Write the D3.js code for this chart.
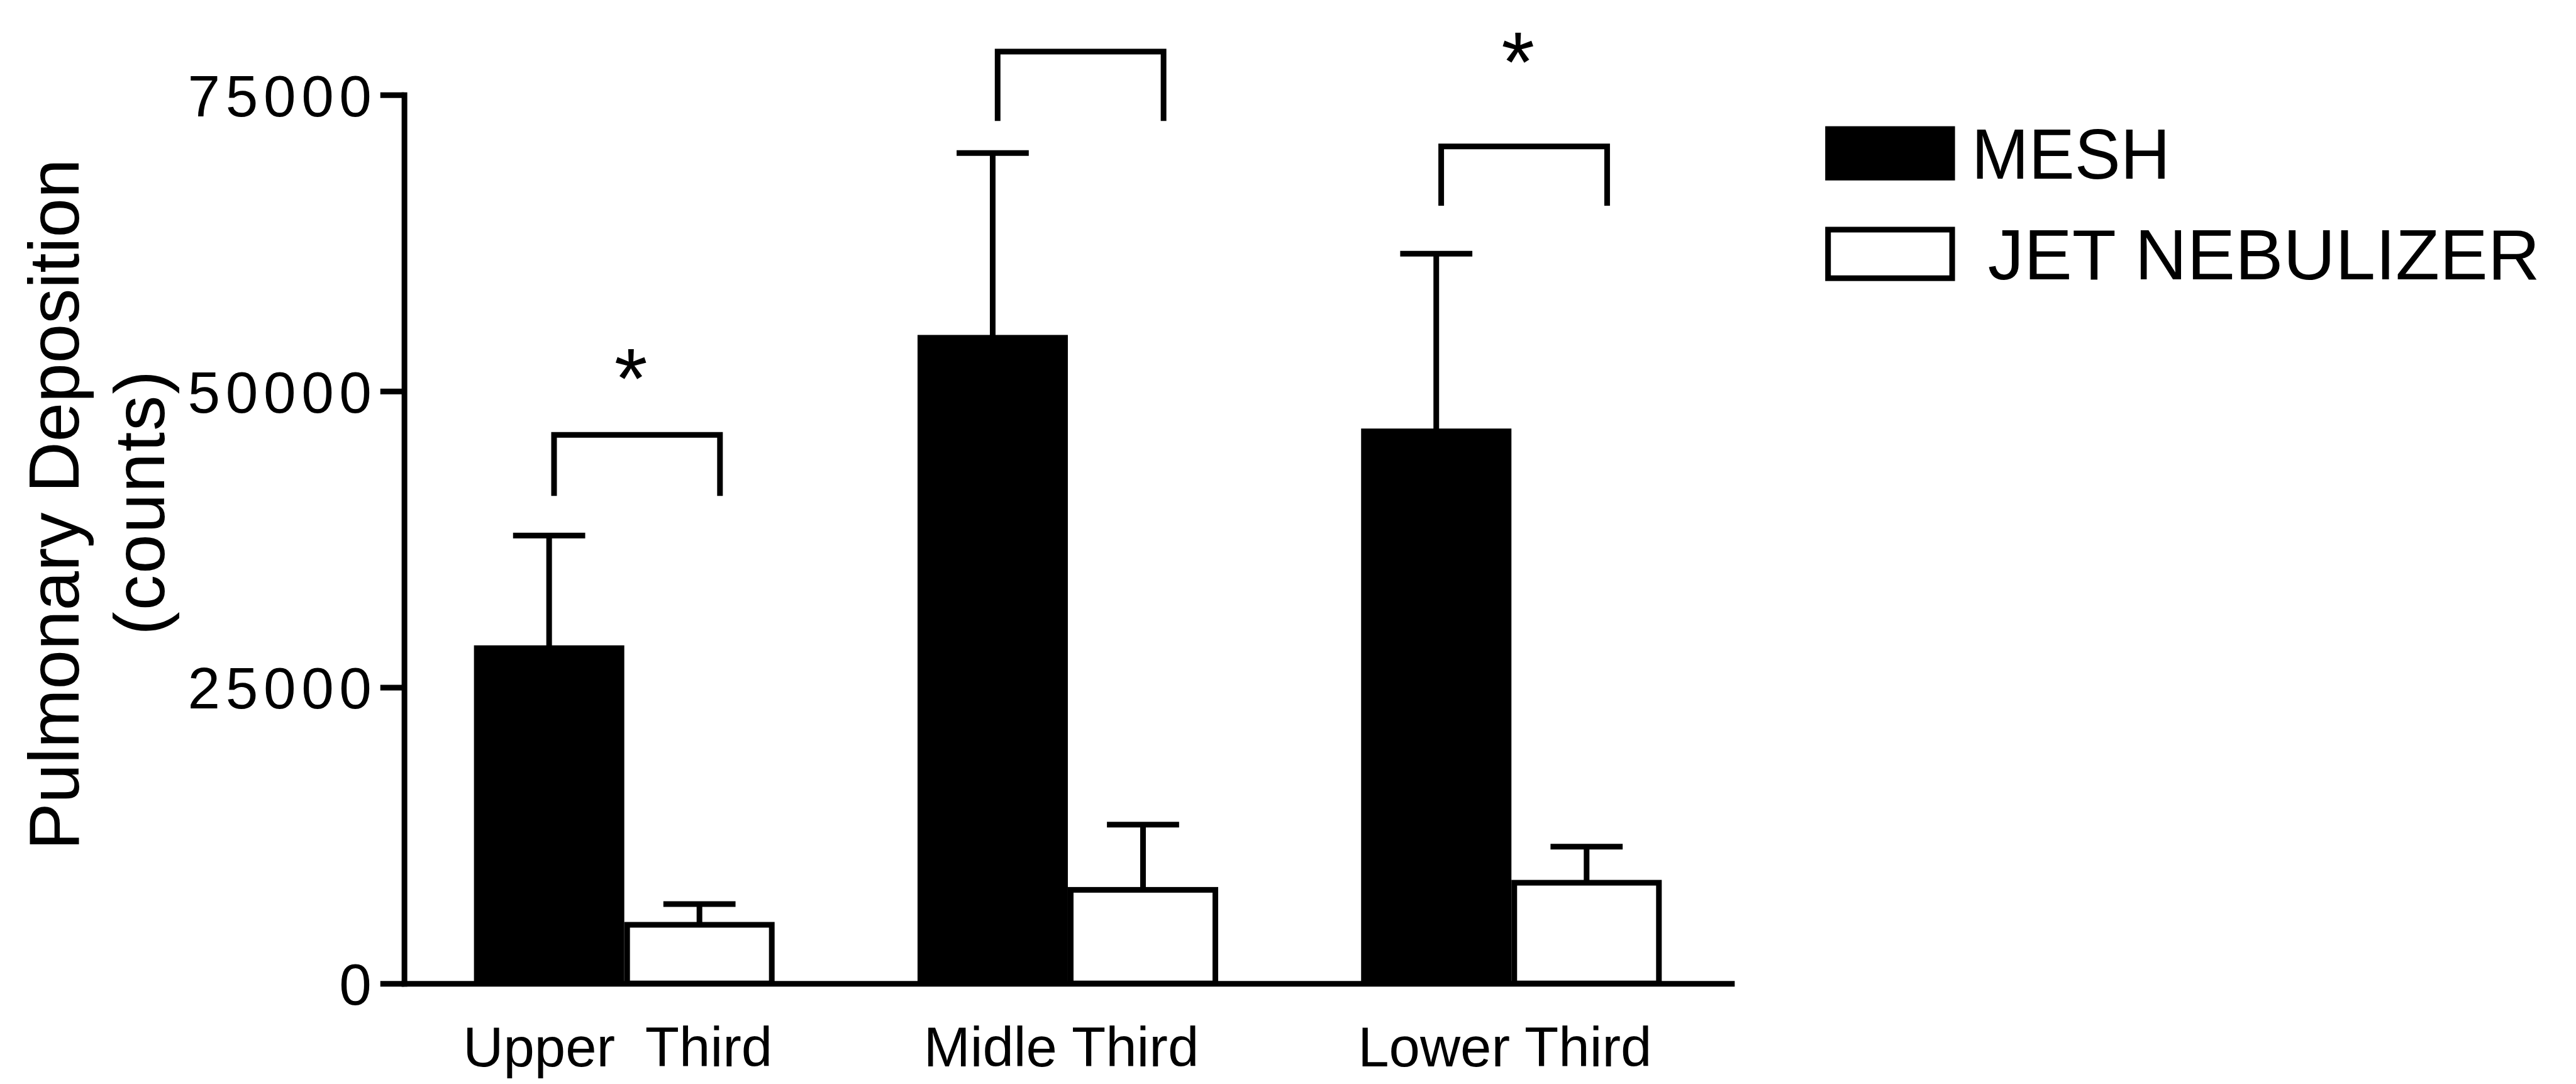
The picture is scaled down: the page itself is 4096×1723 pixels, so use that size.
<!DOCTYPE html>
<html><head><meta charset="utf-8">
<script src="https://cdn.jsdelivr.net/npm/d3@7"></script>
<style>html,body{margin:0;padding:0;background:#fff;overflow:hidden}</style>
</head><body><svg id="chart"></svg>
<script>
// ---- data ----
const categories = ["Upper\u00A0 Third", "Midle Third", "Lower Third"];
const seriesNames = ["MESH", "JET NEBULIZER"];
const meshMean = [28300, 54500, 46600];
const meshSD = [9500, 15600, 15000];
const jetMean = [4950, 7900, 8500];
const jetSD = [1750, 5500, 3050];
const yTicks = [0, 25000, 50000, 75000];
const significance = ["*", "", "*"];
const bracketTop = [46300, 78650, 70650];
const bracketLegEnd = [41150, 72800, 65650];
const starCenter = [52800, null, 79550];
const yTitle = ["Pulmonary Deposition", "(counts)"];

// ---- layout ----
const W = 4096, H = 1723, k = W / 1568;
const FONT = "'Liberation Sans', Arial, Helvetica, sans-serif";
const LW = 9;
const svg = d3.select("#chart").attr("width", W).attr("height", H);
svg.append("rect").attr("width", W).attr("height", H).attr("fill", "#fff");

const y = d3.scaleLinear().domain([0, 75000]).range([598.4 * k, 57.75 * k]);
const x0 = d3.scaleBand().domain(categories).range([246 * k, 1054 * k])
  .paddingInner(0.3222).paddingOuter(0.1574);
const x1 = d3.scaleBand().domain(seriesNames).range([0, x0.bandwidth()]);
const bw = x1.bandwidth();

const rows = categories.map((c, i) => ({
  cat: c, i,
  values: [
    { s: seriesNames[0], v: meshMean[i], sd: meshSD[i] },
    { s: seriesNames[1], v: jetMean[i], sd: jetSD[i] }
  ]
}));

const g = svg.append("g");

// bars
const grp = g.selectAll("g.grp").data(rows).join("g")
  .attr("class", "grp")
  .attr("transform", d => `translate(${x0(d.cat)},0)`);

grp.selectAll("rect.bar").data(d => d.values).join("rect")
  .attr("class", "bar")
  .attr("x", d => d.s === seriesNames[0] ? x1(d.s) : x1(d.s) + LW / 2)
  .attr("width", d => d.s === seriesNames[0] ? bw : bw - LW)
  .attr("y", d => d.s === seriesNames[0] ? y(d.v) - LW / 2 : y(d.v))
  .attr("height", d => d.s === seriesNames[0] ? y(0) - y(d.v) + LW / 2 : y(0) - y(d.v))
  .attr("fill", d => d.s === seriesNames[0] ? "#000" : "#fff")
  .attr("stroke", d => d.s === seriesNames[0] ? "none" : "#000")
  .attr("stroke-width", LW);

// error bars (upper only)
grp.selectAll("line.err").data(d => d.values).join("line")
  .attr("class", "err")
  .attr("x1", d => x1(d.s) + bw / 2).attr("x2", d => x1(d.s) + bw / 2)
  .attr("y1", d => y(d.v)).attr("y2", d => y(d.v + d.sd))
  .attr("stroke", "#000").attr("stroke-width", LW);
grp.selectAll("line.cap").data(d => d.values).join("line")
  .attr("class", "cap")
  .attr("x1", d => x1(d.s) + bw / 2 - bw * 0.24).attr("x2", d => x1(d.s) + bw / 2 + bw * 0.24)
  .attr("y1", d => y(d.v + d.sd)).attr("y2", d => y(d.v + d.sd))
  .attr("stroke", "#000").attr("stroke-width", LW);

// significance brackets
grp.append("path")
  .attr("d", d => {
    const xl = x1(seriesNames[0]) + bw / 2 + 3 * k;
    const xr = x1(seriesNames[1]) + bw / 2 + 12.5 * k;
    return `M${xl},${y(bracketLegEnd[d.i])}V${y(bracketTop[d.i])}H${xr}V${y(bracketLegEnd[d.i])}`;
  })
  .attr("fill", "none").attr("stroke", "#000").attr("stroke-width", LW)
  .attr("stroke-linejoin", "miter");

const starFs = 52 * k;
grp.filter(d => significance[d.i] !== "")
  .append("text")
  .attr("x", x0.bandwidth() / 2 + 4 * k)
  .attr("y", d => y(starCenter[d.i]) + 0.585 * starFs)
  .attr("text-anchor", "middle")
  .attr("font-family", FONT).attr("font-size", starFs)
  .text(d => significance[d.i]);

// y axis
const yAxis = d3.axisLeft(y).tickValues(yTicks).tickFormat(d3.format("d"))
  .tickSize(14.5 * k).tickSizeOuter(0).tickPadding(2 * k);
const ya = svg.append("g").attr("transform", `translate(${246 * k},0)`).call(yAxis);
ya.select(".domain").attr("stroke", "#000").attr("stroke-width", LW).attr("stroke-linecap", "square");
ya.selectAll(".tick line").attr("stroke", "#000").attr("stroke-width", LW);
ya.selectAll(".tick text")
  .attr("font-family", FONT).attr("font-size", 35.5 * k)
  .attr("letter-spacing", 3.3 * k)
  .attr("fill", "#000").attr("dy", "0.36em");

// x axis
const xAxis = d3.axisBottom(x0).tickSize(0).tickSizeOuter(0).tickPadding(0);
const xa = svg.append("g").attr("transform", `translate(0,${y(0)})`).call(xAxis);
xa.select(".domain").attr("stroke", "#000").attr("stroke-width", LW).attr("stroke-linecap", "square");
xa.selectAll(".tick text")
  .attr("font-family", FONT).attr("font-size", 34 * k)
  .attr("fill", "#000")
  .attr("y", 50.6 * k).attr("dy", 0).attr("dx", -4 * k);

// y title
svg.append("text")
  .attr("transform", `translate(${48 * k},${307 * k}) rotate(-90)`)
  .attr("text-anchor", "middle")
  .attr("font-family", FONT).attr("font-size", 43 * k)
  .text(yTitle[0]);
svg.append("text")
  .attr("transform", `translate(${100 * k},${306 * k}) rotate(-90)`)
  .attr("text-anchor", "middle")
  .attr("font-family", FONT).attr("font-size", 43 * k)
  .attr("textLength", 161 * k).attr("lengthAdjust", "spacing")
  .text(yTitle[1]);

// legend
const legY = [76.8, 138];
const legTextX = [1200, 1210];
const legTextLen = [121, 336];
const leg = svg.append("g").selectAll("g").data(seriesNames).join("g");
leg.append("rect")
  .attr("x", (d, i) => i === 0 ? 1111 * k : 1111 * k + LW / 2)
  .attr("y", (d, i) => i === 0 ? legY[i] * k : legY[i] * k + LW / 2)
  .attr("width", (d, i) => i === 0 ? 79 * k : 79 * k - LW)
  .attr("height", (d, i) => i === 0 ? 33 * k : 33 * k - LW)
  .attr("fill", (d, i) => i === 0 ? "#000" : "#fff")
  .attr("stroke", (d, i) => i === 0 ? "none" : "#000")
  .attr("stroke-width", LW);
leg.append("text")
  .attr("x", (d, i) => legTextX[i] * k)
  .attr("y", (d, i) => (legY[i] + 32) * k)
  .attr("font-family", FONT).attr("font-size", 43 * k)
  .attr("textLength", (d, i) => legTextLen[i] * k)
  .attr("lengthAdjust", "spacingAndGlyphs")
  .text(d => d);
</script>
</body></html>
